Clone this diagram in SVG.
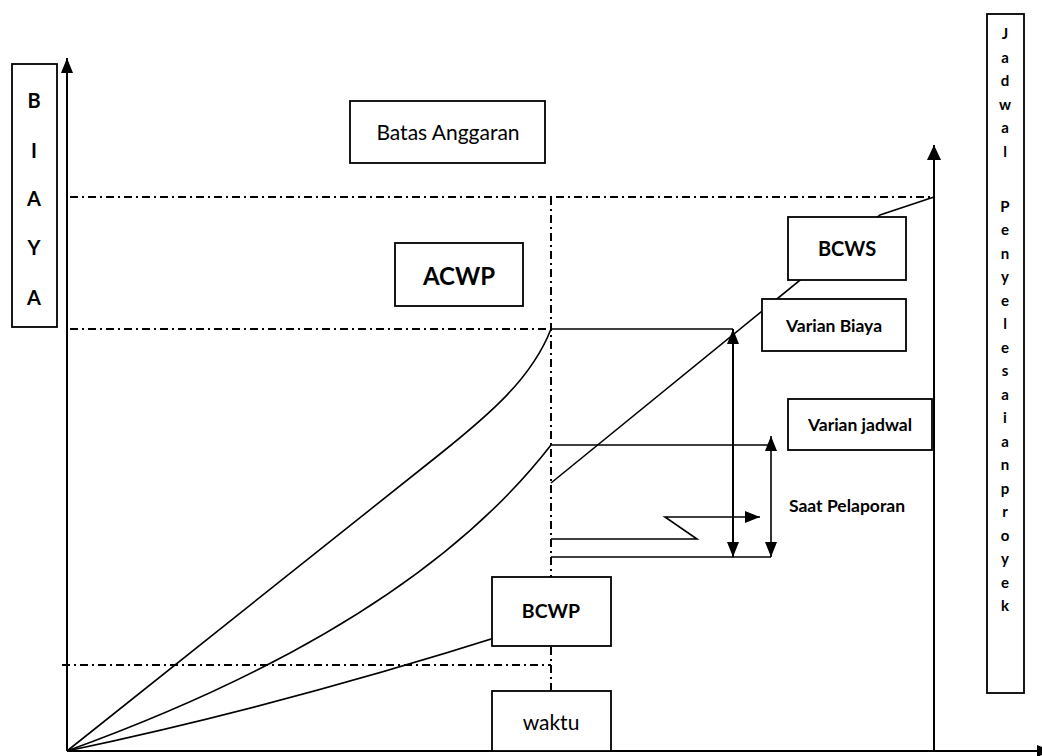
<svg xmlns="http://www.w3.org/2000/svg" width="1042" height="756" viewBox="0 0 1042 756">
<style>
.ln{fill:none;stroke:#000;stroke-width:1.6}
.ax{fill:none;stroke:#000;stroke-width:2}
.dd{fill:none;stroke:#000;stroke-width:2;stroke-dasharray:8 4 2 4}
.bx{fill:#fff;stroke:#000;stroke-width:1.8}
.t{font-family:Lato,"Open Sans",sans-serif;fill:#000;text-anchor:middle;dominant-baseline:central}
.b{font-weight:bold}
.st{text-anchor:start}
</style>
<defs>
<marker id="arr" markerUnits="userSpaceOnUse" viewBox="0 0 15 12" markerWidth="15" markerHeight="12" refX="15" refY="6" orient="auto-start-reverse"><path d="M0,0 L15,6 L0,12 z" fill="#000"/></marker>
<marker id="arrW" markerUnits="userSpaceOnUse" viewBox="0 0 15 14" markerWidth="15" markerHeight="14" refX="15" refY="7" orient="auto"><path d="M0,0 L15,7 L0,14 z" fill="#000"/></marker>
</defs>
<g id="connectors">
<line class="ax" x1="67" y1="751" x2="67" y2="58" marker-end="url(#arr)"/>
<line class="ax" x1="67" y1="751" x2="1052" y2="751" marker-end="url(#arr)"/>
<line class="ax" x1="934" y1="751" x2="934" y2="145" marker-end="url(#arrW)"/>
<path class="dd" d="M70,197 H934"/>
<path class="dd" d="M70,329 H551"/>
<path class="dd" d="M62,665 H551"/>
<path class="dd" d="M551,197 V690"/>
<path class="ln" d="M67,751 L440,454 C490,414 532,378 551,329"/>
<path class="ln" d="M67,751 Q410,627 551,445"/>
<path class="ln" d="M67,751 Q300,702 551,620"/>
<path class="ln" d="M551,483 L880,215 L934,197"/>
<path class="ln" d="M551,329 H733"/>
<line class="ax" x1="733" y1="557" x2="733" y2="329" marker-start="url(#arr)" marker-end="url(#arr)"/>
<path class="ln" d="M551,445 H771"/>
<line class="ln" x1="771" y1="557" x2="771" y2="436" stroke-width="1.2" marker-start="url(#arr)" marker-end="url(#arr)"/>
<path class="ln" d="M551,557 H771"/>
<path class="ln" d="M551,539 H697 L665,517 H760" marker-end="url(#arr)"/>
</g>
<g id="biaya">
<rect class="bx" x="12" y="64" width="45" height="263"/>
<text class="t b" font-size="20" x="34" y="100">B</text>
<text class="t b" font-size="20" x="34" y="150">I</text>
<text class="t b" font-size="20" x="34" y="198">A</text>
<text class="t b" font-size="20" x="34" y="247">Y</text>
<text class="t b" font-size="20" x="34" y="297">A</text>
</g>
<g id="jadwal">
<rect class="bx" x="987" y="14" width="37" height="679"/>
<g class="t b" font-size="15">
<text x="1005" y="33">J</text><text x="1005" y="56.5">a</text><text x="1005" y="80">d</text><text x="1005" y="103.5">w</text><text x="1005" y="127">a</text><text x="1005" y="150.5">l</text>
<text x="1005" y="205.5">P</text><text x="1005" y="229">e</text><text x="1005" y="252.5">n</text><text x="1005" y="276">y</text><text x="1005" y="299.5">e</text><text x="1005" y="323">l</text><text x="1005" y="346.5">e</text><text x="1005" y="370">s</text><text x="1005" y="393.5">a</text><text x="1005" y="417">i</text><text x="1005" y="440.5">a</text><text x="1005" y="464">n</text><text x="1005" y="487.5">p</text><text x="1005" y="511">r</text><text x="1005" y="534.5">o</text><text x="1005" y="558">y</text><text x="1005" y="581.5">e</text><text x="1005" y="605">k</text>
</g>
</g>
<g id="batas">
<rect class="bx" x="350" y="101" width="195" height="62"/>
<text class="t" font-size="21" x="448" y="131">Batas Anggaran</text>
</g>
<g id="acwp">
<rect class="bx" x="395" y="243" width="128" height="63" stroke-width="3"/>
<text class="t b" font-size="24" x="459" y="275">ACWP</text>
</g>
<g id="bcws">
<rect class="bx" x="788" y="217" width="118" height="63"/>
<text class="t b" font-size="20" x="847" y="248">BCWS</text>
</g>
<g id="varian-biaya">
<rect class="bx" x="762" y="299" width="144" height="52"/>
<text class="t b" font-size="17.5" x="834" y="325">Varian Biaya</text>
</g>
<g id="varian-jadwal">
<rect class="bx" x="788" y="399" width="144" height="51"/>
<text class="t b" font-size="17.5" x="860" y="424">Varian jadwal</text>
</g>
<g id="saat-pelaporan">
<text class="t b st" font-size="17.5" x="789" y="505">Saat Pelaporan</text>
</g>
<g id="bcwp">
<rect class="bx" x="492" y="577" width="119" height="69"/>
<text class="t b" font-size="19.5" x="551" y="610">BCWP</text>
</g>
<g id="waktu">
<rect class="bx" x="492" y="691" width="119" height="60"/>
<text class="t" font-size="21" x="551" y="721">waktu</text>
</g>
</svg>
